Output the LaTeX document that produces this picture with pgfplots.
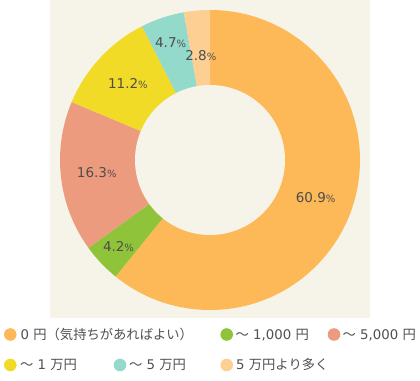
\documentclass[border=0pt]{standalone}
\usepackage{pgfplots}
\usepackage{pgfplotstable}
\pgfplotsset{compat=1.18}
\usepackage{fontspec}
\setmainfont{DejaVu Sans}
\newfontfamily\jp{Noto Sans CJK JP}
\newcommand\J[1]{{\jp #1}}
\definecolor{pie0}{HTML}{FDB957}
\definecolor{pie1}{HTML}{8FC43A}
\definecolor{pie2}{HTML}{ED9B7E}
\definecolor{pie3}{HTML}{F2DB26}
\definecolor{pie4}{HTML}{93DACB}
\definecolor{pie5}{HTML}{FDCF92}
\definecolor{bg}{HTML}{F6F4E8}
\definecolor{lab}{HTML}{4D4D4D}
\definecolor{leg}{HTML}{505050}

\pgfplotstableread{
value rad
60.9 112
4.2 126
16.3 114
11.2 112
4.7 124
2.8 105
}\piedata

\begin{document}
\begin{tikzpicture}
% precompute angles from the data
\xdef\tot{0}
\foreach \i in {0,...,5}{%
  \pgfplotstablegetelem{\i}{value}\of\piedata
  \pgfmathsetmacro\tmpt{\tot+\pgfplotsretval}\xdef\tot{\tmpt}}
\xdef\cum{0}
\foreach \i in {0,...,5}{%
  \pgfplotstablegetelem{\i}{value}\of\piedata
  \let\myv\pgfplotsretval
  \expandafter\xdef\csname val\i\endcsname{\myv}%
  \pgfmathsetmacro\mys{90-\cum/\tot*360}%
  \pgfmathsetmacro\mye{90-(\cum+\myv)/\tot*360}%
  \pgfmathsetmacro\mym{(\mys+\mye)/2}%
  \expandafter\xdef\csname sA\i\endcsname{\mys}%
  \expandafter\xdef\csname eA\i\endcsname{\mye}%
  \expandafter\xdef\csname mA\i\endcsname{\mym}%
  \pgfplotstablegetelem{\i}{rad}\of\piedata
  \expandafter\xdef\csname rA\i\endcsname{\pgfplotsretval}%
  \pgfmathsetmacro\myc{\cum+\myv}\xdef\cum{\myc}}
\begin{axis}[
  scale only axis, width=420pt, height=380pt,
  xmin=0, xmax=420, ymin=0, ymax=380,
  hide axis, clip=false]
\fill[bg] (axis cs:50,62) rectangle (axis cs:370,380);
\pgfplotsinvokeforeach{0,...,5}{%
  \edef\tmp{\noexpand\fill[pie#1] (axis cs:210,220) -- ++(\csname sA#1\endcsname:150pt) arc[start angle=\csname sA#1\endcsname, end angle=\csname eA#1\endcsname, radius=150pt] -- cycle;}%
  \tmp
}
\fill[bg] (axis cs:210,220) circle[radius=75pt];
\pgfplotsinvokeforeach{0,...,5}{%
  \edef\tmp{\noexpand\path (axis cs:210,220) ++(\csname mA#1\endcsname:\csname rA#1\endcsname pt) node[text=lab, inner sep=0]{\noexpand\fontsize{13.5}{16}\noexpand\selectfont \csname val#1\endcsname{\noexpand\fontsize{10}{12}\noexpand\selectfont\noexpand\%}};}%
  \tmp
}
% legend
\fill[pie0] (axis cs:10.3,45.5) circle[radius=6.3pt];
\fill[pie1] (axis cs:226.7,45.5) circle[radius=6.3pt];
\fill[pie2] (axis cs:334,45.5) circle[radius=6.3pt];
\fill[pie3] (axis cs:10.3,15) circle[radius=6.3pt];
\fill[pie4] (axis cs:120,15) circle[radius=6.3pt];
\fill[pie5] (axis cs:226.7,15) circle[radius=6.3pt];
\begin{scope}[every node/.style={anchor=base west, inner sep=0, text=leg, font=\fontsize{13.3}{15}\selectfont}]
\node at (axis cs:20.5,40.8) {0 \J{円（気持ちがあればよい）}};
\node at (axis cs:235.5,40.8) {\J{～} 1,000 \J{円}};
\node at (axis cs:342.5,40.8) {\J{～} 5,000 \J{円}};
\node at (axis cs:20,10.3) {\J{～} 1 \J{万円}};
\node at (axis cs:129,10.3) {\J{～} 5 \J{万円}};
\node at (axis cs:236,10.3) {5 \J{万円より多く}};
\end{scope}
\end{axis}
\pgfresetboundingbox
\path (0,0) rectangle (420pt,380pt);
\end{tikzpicture}
\end{document}
